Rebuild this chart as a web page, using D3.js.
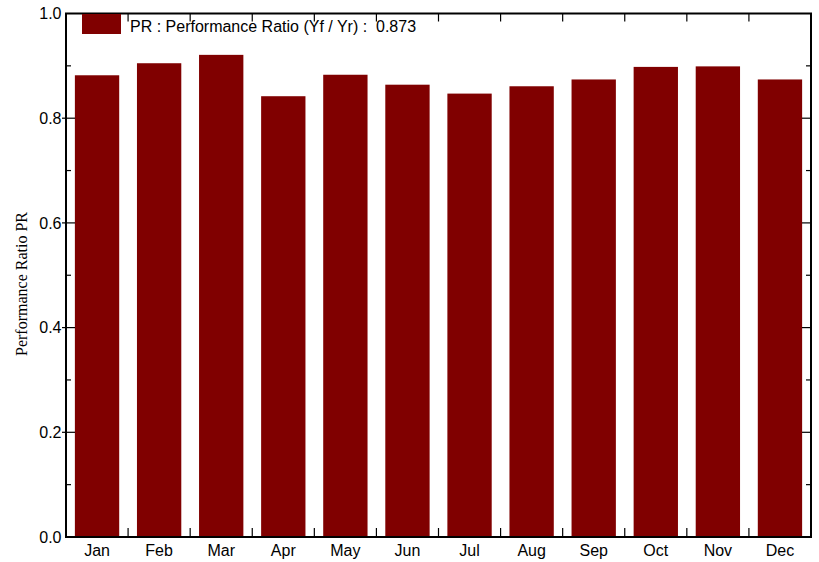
<!DOCTYPE html>
<html><head><meta charset="utf-8">
<script src="https://cdn.jsdelivr.net/npm/d3@7"></script>
<style>body{margin:0;background:#fff}svg{display:block}</style>
</head><body>
<script>
const months = ["Jan","Feb","Mar","Apr","May","Jun","Jul","Aug","Sep","Oct","Nov","Dec"];
const prValues = [0.882,0.905,0.921,0.842,0.883,0.864,0.847,0.861,0.874,0.898,0.899,0.874];
const yTicks = [0.0,0.2,0.4,0.6,0.8,1.0];
const yMinor = [0.1,0.3,0.5,0.7,0.9];
const legendLabel = "PR : Performance Ratio (Yf / Yr) :  0.873";
const yTitle = "Performance Ratio PR";

const W=819,H=562;
const m={l:66,r:8,t:13.5,b:25};
const svg=d3.select("body").append("svg").attr("width",W).attr("height",H);
const x=d3.scaleBand().domain(months).range([m.l,W-m.r]).paddingInner(0.286).paddingOuter(0.143);
const xb=d3.scaleLinear().domain([0,12]).range([m.l,W-m.r]);
const y=d3.scaleLinear().domain([0,1]).range([H-m.b,m.t]);
const col="#800000";

svg.append("g").selectAll("rect").data(prValues).join("rect")
  .attr("x",(d,i)=>x(months[i])).attr("width",x.bandwidth())
  .attr("y",d=>y(d)).attr("height",d=>y(0)-y(d)).attr("fill",col);

const font="'Liberation Sans',Arial,sans-serif";
// frame
svg.append("rect").attr("x",m.l).attr("y",m.t).attr("width",W-m.r-m.l).attr("height",y(0)-m.t)
  .attr("fill","none").attr("stroke","#000").attr("stroke-width",2);

const bounds=d3.range(1,12);
// bottom & top boundary ticks
svg.append("g").selectAll("line").data(bounds).join("line")
  .attr("x1",d=>xb(d)).attr("x2",d=>xb(d)).attr("y1",y(0)).attr("y2",y(0)-9).attr("stroke","#000").attr("stroke-width",1.2);
svg.append("g").selectAll("line").data(bounds).join("line")
  .attr("x1",d=>xb(d)).attr("x2",d=>xb(d)).attr("y1",m.t).attr("y2",m.t+8).attr("stroke","#000").attr("stroke-width",1.2);

// left axis via d3
const yAxis=d3.axisLeft(y).tickValues(yTicks).tickFormat(d3.format(".1f")).tickSize(0).tickPadding(4.5);
const ga=svg.append("g").attr("transform",`translate(${m.l},0)`).call(yAxis);
ga.select(".domain").remove();
ga.selectAll("text").attr("font-family",font).attr("font-size",16).attr("fill","#000");
// major ticks crossing
svg.append("g").selectAll("line").data(yTicks.slice(1,-1)).join("line")
  .attr("x1",m.l-4).attr("x2",m.l+9).attr("y1",d=>y(d)).attr("y2",d=>y(d)).attr("stroke","#000").attr("stroke-width",1.2);
svg.append("g").selectAll("line").data(yMinor).join("line")
  .attr("x1",m.l).attr("x2",m.l+5).attr("y1",d=>y(d)).attr("y2",d=>y(d)).attr("stroke","#000").attr("stroke-width",1.2);
// right ticks
svg.append("g").selectAll("line").data(yTicks.slice(1,-1)).join("line")
  .attr("x1",W-m.r-9).attr("x2",W-m.r).attr("y1",d=>y(d)).attr("y2",d=>y(d)).attr("stroke","#000").attr("stroke-width",1.2);
svg.append("g").selectAll("line").data(yMinor).join("line")
  .attr("x1",W-m.r-5).attr("x2",W-m.r).attr("y1",d=>y(d)).attr("y2",d=>y(d)).attr("stroke","#000").attr("stroke-width",1.2);

// x axis labels
const xAxis=d3.axisBottom(x).tickSize(0).tickPadding(7.5);
const gx=svg.append("g").attr("transform",`translate(0,${y(0)})`).call(xAxis);
gx.select(".domain").remove();
gx.selectAll("text").attr("font-family",font).attr("font-size",16).attr("fill","#000");

// y title
svg.append("text").attr("transform",`translate(27,284) rotate(-90)`)
  .attr("text-anchor","middle").attr("font-family","'Liberation Serif','Times New Roman',serif")
  .attr("font-size",16).text(yTitle);

// legend
svg.append("rect").attr("x",82).attr("y",14).attr("width",39).attr("height",20).attr("fill",col);
svg.append("text").attr("x",130).attr("y",32.3).attr("font-family",font).attr("font-size",16).attr("fill","#000").attr("xml:space","preserve").style("white-space","pre").text(legendLabel);
</script>
</body></html>
